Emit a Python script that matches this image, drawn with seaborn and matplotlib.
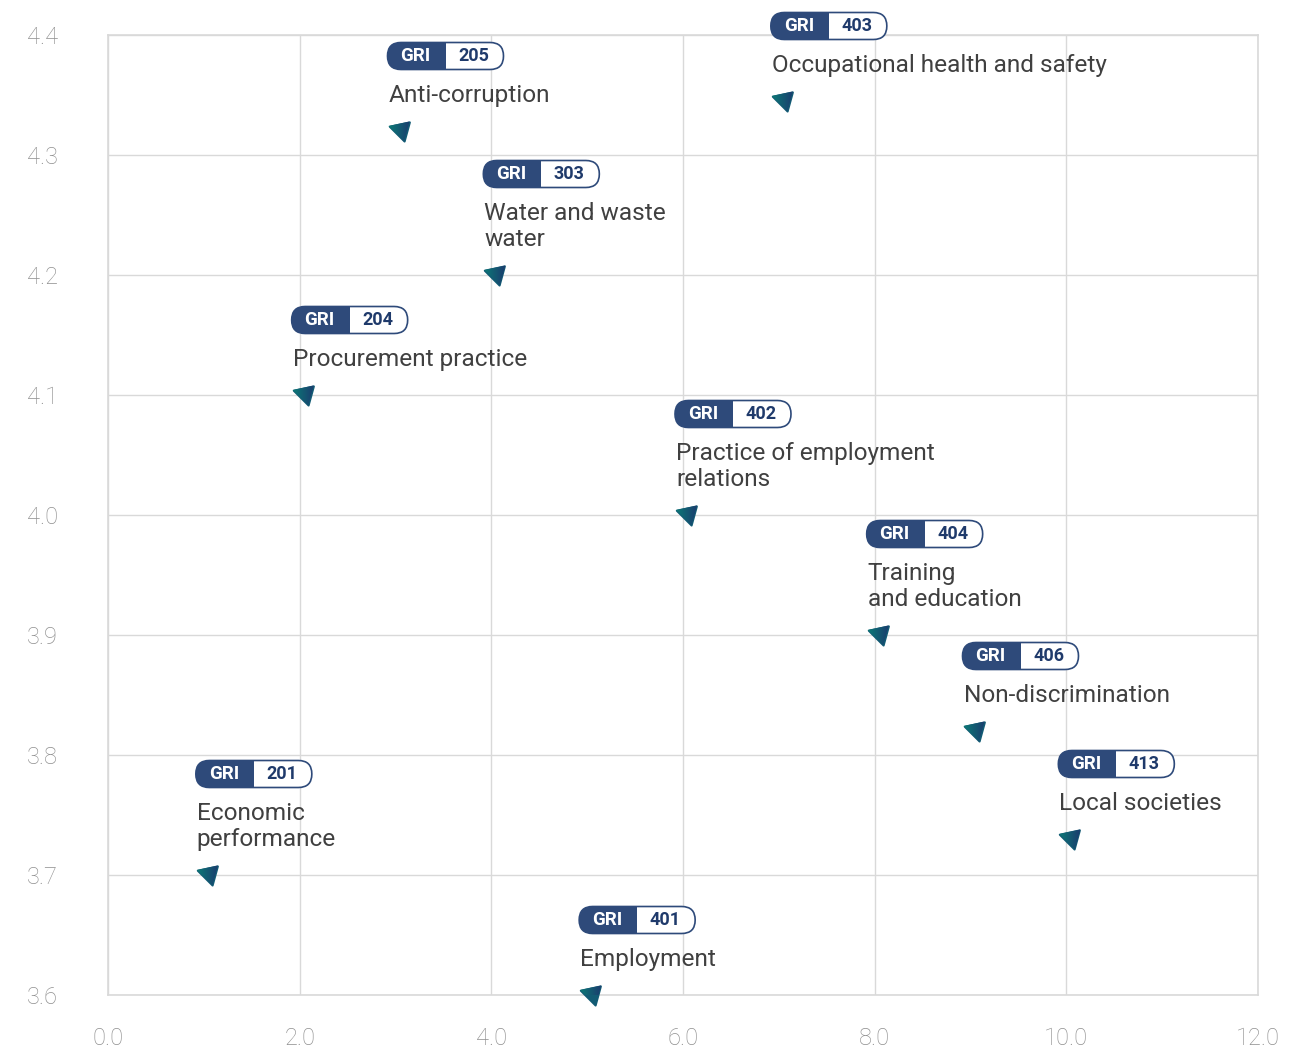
import numpy as np
import pandas as pd
import matplotlib
matplotlib.use("Agg")
import matplotlib.pyplot as plt
import matplotlib.transforms as mtransforms
from matplotlib.patches import FancyBboxPatch, Rectangle, Polygon
from matplotlib.path import Path
from matplotlib.markers import MarkerStyle
import seaborn as sns

# data
codes = ["201", "204", "205", "303", "401", "402", "403", "404", "406", "413"]
titles = ["Economic\nperformance", "Procurement practice", "Anti-corruption",
          "Water and waste\nwater", "Employment", "Practice of employment\nrelations",
          "Occupational health and safety", "Training\nand education",
          "Non-discrimination", "Local societies"]
x_vals = [1, 2, 3, 4, 5, 6, 7, 8, 9, 10]
y_vals = [3.70, 4.10, 4.32, 4.20, 3.60, 4.00, 4.345, 3.90, 3.82, 3.73]
x_ticks = [0, 2, 4, 6, 8, 10, 12]
y_ticks = [3.6, 3.7, 3.8, 3.9, 4.0, 4.1, 4.2, 4.3, 4.4]

df = pd.DataFrame({"code": codes, "title": titles, "x": x_vals, "y": y_vals})

NAVY = "#2E4A7A"
NUM = "#1F3A6B"
GRID = "#d9d9d9"

sns.set_theme(style="whitegrid")
plt.rcParams["font.family"] = ["Roboto", "DejaVu Sans"]

DPI = 100
fig = plt.figure(figsize=(13.13, 10.51), dpi=DPI)
ax = fig.add_axes([108 / 1313, 1 - 995 / 1051, 1150 / 1313, 960 / 1051])

# triangle marker (pixel offsets from the data point, y up)
tri = np.array([[-7, 5], [14, 9.5], [8.5, -10.5], [-7, 5]])
marker = MarkerStyle(Path(tri, [Path.MOVETO, Path.LINETO, Path.LINETO, Path.CLOSEPOLY]),
                     joinstyle="round")

sns.scatterplot(data=df, x="x", y="y", ax=ax, marker=marker, s=370,
                color="#125B74", edgecolor="#125B74", linewidth=1.5, zorder=5,
                clip_on=False)

ax.set_xlim(0, 12)
ax.set_ylim(3.6, 4.4)
ax.set_xticks(x_ticks)
ax.set_yticks(y_ticks)
ax.set_xticklabels([f"{t:.1f}" for t in x_ticks])
ax.set_yticklabels([f"{t:.1f}" for t in y_ticks])
ax.tick_params(axis="both", length=0, labelsize=17, labelcolor="#8f8f8f")
ax.tick_params(axis="y", pad=36)
ax.tick_params(axis="x", pad=23)
for lab in ax.get_xticklabels() + ax.get_yticklabels():
    lab.set_fontweight("light")
ax.set_xlabel("")
ax.set_ylabel("")
ax.grid(True, color=GRID, linewidth=1)
for sp in ax.spines.values():
    sp.set_color(GRID)
    sp.set_linewidth(1.2)

# gradient fill over each marker
grad = np.linspace(0, 1, 64).reshape(1, -1)
cmap = matplotlib.colors.LinearSegmentedColormap.from_list("g", ["#0B7C76", "#1B3A6E"])

for _, r in df.iterrows():
    tr = fig.dpi_scale_trans + mtransforms.ScaledTranslation(r["x"], r["y"], ax.transData)
    poly = Polygon(tri[:3] / DPI, closed=True, transform=tr, facecolor="none",
                   edgecolor="none")
    ax.add_patch(poly)
    im = ax.imshow(grad, cmap=cmap, extent=(-0.08, 0.15, -0.12, 0.11), transform=tr,
                   zorder=6, aspect="auto", interpolation="bilinear")
    im.set_clip_path(poly)
    im.set_clip_box(None)

    # label lines, bottom-up
    lines = r["title"].split("\n")
    for i, line in enumerate(reversed(lines)):
        ax.annotate(line, (r["x"], r["y"]), xytext=(-7, 29 + 26 * i),
                    textcoords="offset pixels", ha="left", va="baseline",
                    fontsize=17.6, color="#404040", zorder=7, annotation_clip=False)

    # GRI badge
    bc = 75 + 26 * (len(lines) - 1)
    w, h, lw = 116, 27, 58
    left = -8
    bx, by = left / DPI, (bc - h / 2) / DPI
    pill = FancyBboxPatch((bx, by), w / DPI, h / DPI,
                          boxstyle=f"round,pad=0,rounding_size={h / 2 / DPI}",
                          transform=tr, facecolor="white", edgecolor="none",
                          zorder=7, clip_on=False)
    ax.add_patch(pill)
    fill = Rectangle((bx, by), lw / DPI, h / DPI, transform=tr, facecolor=NAVY,
                     edgecolor="none", zorder=8)
    ax.add_patch(fill)
    fill.set_clip_path(pill)
    fill.set_clip_box(None)
    outline = FancyBboxPatch((bx, by), w / DPI, h / DPI,
                             boxstyle=f"round,pad=0,rounding_size={h / 2 / DPI}",
                             transform=tr, facecolor="none", edgecolor=NAVY,
                             linewidth=1.2, zorder=9, clip_on=False)
    ax.add_patch(outline)
    ax.annotate("GRI", (r["x"], r["y"]), xytext=(left + 28, bc),
                textcoords="offset pixels", ha="center", va="center",
                fontsize=13.5, fontweight="bold", color="white", zorder=10,
                annotation_clip=False)
    ax.annotate(r["code"], (r["x"], r["y"]), xytext=(left + 86, bc),
                textcoords="offset pixels", ha="center", va="center",
                fontsize=13, fontweight="bold", color=NUM, zorder=10,
                annotation_clip=False)

fig.savefig("out.png", dpi=DPI)
